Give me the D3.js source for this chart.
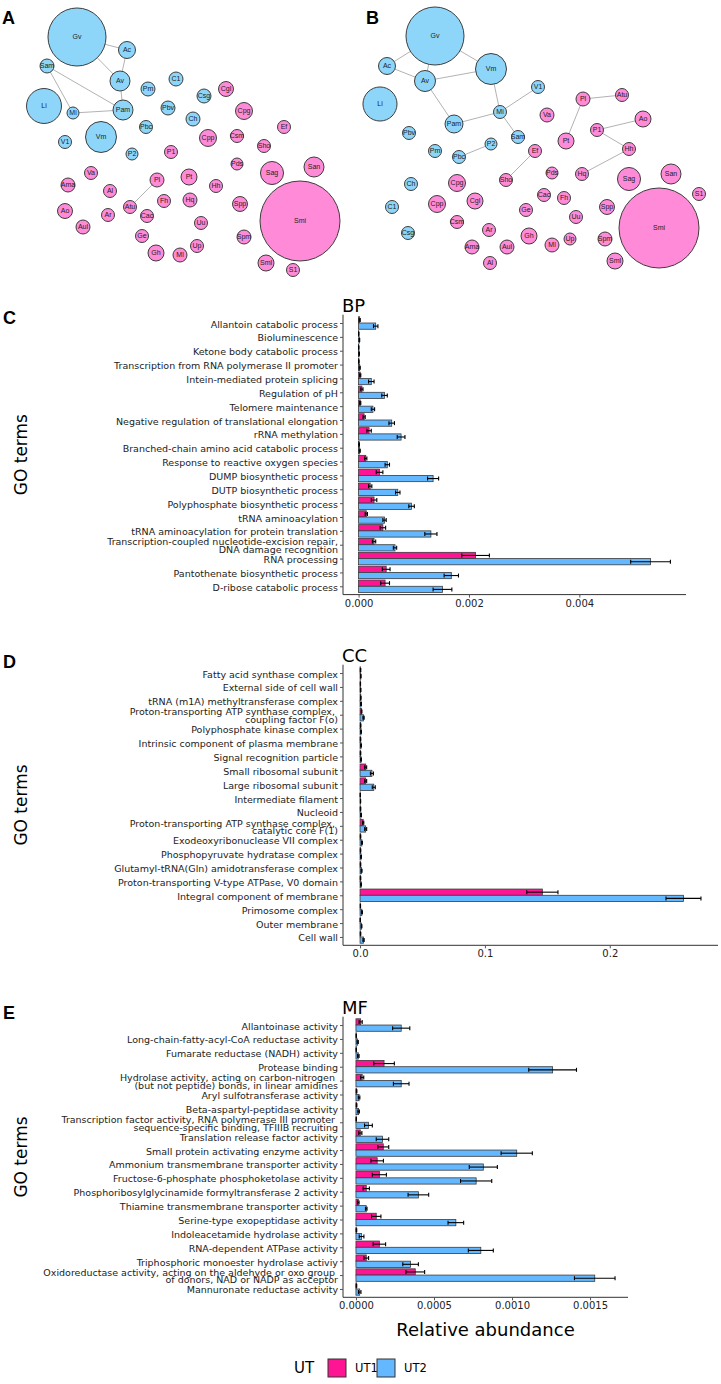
<!DOCTYPE html>
<html><head><meta charset="utf-8">
<script src="https://cdnjs.cloudflare.com/ajax/libs/d3/7.8.5/d3.min.js"></script>
<style>
body{margin:0;background:#fff;}
svg{display:block;font-family:"DejaVu Sans",Verdana,sans-serif;}
</style></head><body>
<svg id="fig" width="721" height="1384"></svg>
<script>
// ---------- Network data (layout coordinates, relative abundance size) ----------
const nodesA = [
 ["Gv","b",77,37,52.6],["Ac","b",127,50,4.5],["Sam","b",47,66,3.06],["Av","b",120,81,6.25],
 ["Li","b",44,106,19.1],["Mi","b",73,113,2.25],["Pam","b",123,110,6.25],["Pm","b",148,89,3.06],
 ["C1","b",176,79,3.06],["Cgl","p",226,89,3.5],["Csg","b",204,96,3.06],["Pbv","b",168,108,3.06],
 ["Cpg","p",244,111,4.5],["Ch","b",193,119,3.06],["Pbc","b",146,127,2.64],["Ef","p",284,127,2.64],
 ["V1","b",65,142,2.64],["Vm","b",101,137,15],["Cpp","p",208,138,4.5],["Csm","p",237,136,2.64],
 ["Sho","p",264,146,2.64],["P2","b",132,154,2.25],["P1","p",171,152,2.64],["Pds","p",237,164,2.25],
 ["Sag","p",272,173,8.3],["San","p",314,167,6.25],["Va","p",91,173,2.64],["Ama","p",68,185,3.06],
 ["Pl","p",157,180,3.06],["Pt","p",189,177,4],["Hh","p",216,186,2.64],["Al","p",110,191,2.64],
 ["Ao","p",65,211,3.5],["Atu","p",130,207,2.64],["Fh","p",164,201,2.64],["Hq","p",190,200,3.06],
 ["Spp","p",240,204,3.5],["Smi","p",300,221,100],["Cac","p",147,216,2.64],["Ar","p",108,215,2.64],
 ["Aul","p",83,227,3.06],["Uu","p",201,223,2.64],["Ge","p",142,236,2.64],["Spm","p",244,237,3.06],
 ["Up","p",197,246,2.64],["Gh","p",156,253,4],["Ml","p",180,255,3.06],["Sml","p",266,263,4],["S1","p",293,270,2.64]
];
const edgesA = [["Gv","Ac"],["Gv","Av"],["Ac","Av"],["Av","Pam"],["Sam","Pam"],["Sam","Mi"],["Mi","Pam"],["Pl","Atu"]];

const nodesB = [
 ["Gv","b",75,36,52.6],["Ac","b",27,66,4.5],["Av","b",65,81,6.9],["Vm","b",131,69,15],
 ["Li","b",20,104,18.1],["V1","b",178,87,2.64],["Mi","b",140,112,2.64],["Pam","b",94,124,5.06],
 ["Pl","p",223,99,3.06],["Atu","p",262,95,2.64],["Va","p",187,115,3.06],["Ao","p",283,119,4],
 ["P1","p",237,130,2.64],["Pbv","b",49,133,2.64],["Sam","b",158,137,2.64],["Pt","p",206,141,4],
 ["P2","b",131,144,2.25],["Hh","p",269,149,2.64],["Pm","b",75,151,2.64],["Pbc","b",99,157,2.64],
 ["Ef","p",175,151,2.64],["Pds","p",192,173,2.25],["Hq","p",222,174,2.64],["Sag","p",269,179,8.3],
 ["San","p",311,174,6.25],["Sho","p",146,180,2.64],["Ch","b",51,184,2.64],["Cpg","p",97,183,4.5],
 ["S1","p",339,194,2.64],["Cac","p",184,195,2.64],["Fh","p",204,198,2.64],["Cgl","p",115,201,4],
 ["Cpp","p",77,204,4.5],["C1","b",32,207,2.64],["Spp","p",247,207,3.5],["Ge","p",166,210,2.64],
 ["Smi","p",299,228,100],["Uu","p",216,217,2.64],["Csm","p",97,222,2.64],["Ar","p",129,230,2.64],
 ["Csg","b",48,233,2.64],["Gh","p",169,236,4],["Up","p",210,239,2.25],["Spm","p",245,239,3.06],
 ["Ml","p",192,245,3.06],["Ama","p",112,247,3.06],["Aul","p",147,247,3.06],["Sml","p",255,261,4],["Al","p",130,263,2.64]
];
const edgesB = [["Gv","Ac"],["Gv","Av"],["Gv","Vm"],["Ac","Av"],["Av","Vm"],["Av","Pam"],["Vm","Mi"],["Pam","Mi"],
 ["Mi","V1"],["Mi","Sam"],["Pl","Atu"],["Pl","Pt"],["Ao","P1"],["P1","Hh"],["Hh","Hq"],["Pbc","P2"],["Ef","Sho"]];

// ---------- Bar chart data ----------
const bpCats = ["Allantoin catabolic process","Bioluminescence","Ketone body catabolic process",
 "Transcription from RNA polymerase II promoter","Intein-mediated protein splicing","Regulation of pH",
 "Telomere maintenance","Negative regulation of translational elongation","rRNA methylation",
 "Branched-chain amino acid catabolic process","Response to reactive oxygen species","DUMP biosynthetic process",
 "DUTP biosynthetic process","Polyphosphate biosynthetic process","tRNA aminoacylation",
 "tRNA aminoacylation for protein translation","Transcription-coupled nucleotide-excision repair,\nDNA damage recognition",
 "RNA processing","Pantothenate biosynthetic process","D-ribose catabolic process"];
const bpUT1   = [0.00002,0.000003,0.000003,0.000005,0.00003,0.00006,0.00003,0.0001,0.00019,0.00001,0.00013,0.00038,0.00021,0.00028,0.00014,0.00044,0.00028,0.00212,0.0005,0.00048];
const bpUT1se = [0.00001,0.000002,0.000002,0.000003,0.00001,0.00002,0.00001,0.00002,0.00004,0.000005,0.00002,0.00006,0.00003,0.00005,0.00002,0.00005,0.00003,0.00025,0.00007,0.00008];
const bpUT2   = [0.00031,0.000015,0.00001,0.00002,0.00023,0.00047,0.00026,0.0006,0.00077,0.00002,0.00052,0.00135,0.00071,0.00096,0.00047,0.00131,0.00066,0.00529,0.00168,0.00152];
const bpUT2se = [0.00004,0.000005,0.000005,0.00001,0.00005,0.00005,0.00003,0.00005,0.00007,0.00001,0.00004,0.0001,0.00004,0.00005,0.00003,0.00011,0.00003,0.00036,0.00013,0.00017];
const bpTicks = [0,0.002,0.004];

const ccCats = ["Fatty acid synthase complex","External side of cell wall","tRNA (m1A) methyltransferase complex",
 "Proton-transporting ATP synthase complex, \ncoupling factor F(o)","Polyphosphate kinase complex",
 "Intrinsic component of plasma membrane","Signal recognition particle","Small ribosomal subunit",
 "Large ribosomal subunit","Intermediate filament","Nucleoid",
 "Proton-transporting ATP synthase complex, \ncatalytic core F(1)","Exodeoxyribonuclease VII complex",
 "Phosphopyruvate hydratase complex","Glutamyl-tRNA(Gln) amidotransferase complex",
 "Proton-transporting V-type ATPase, V0 domain","Integral component of membrane","Primosome complex",
 "Outer membrane","Cell wall"];
const ccUT1   = [0.0004,0.0003,0.0006,0.0012,0.0005,0.0004,0.0004,0.0045,0.0045,0.0002,0.0004,0.0025,0.0004,0.0004,0.0004,0.0004,0.146,0.0003,0.0002,0.0004];
const ccUT1se = [0.0002,0.0001,0.0002,0.0003,0.0002,0.0002,0.0002,0.0008,0.0008,0.0001,0.0002,0.0005,0.0002,0.0002,0.0002,0.0002,0.0125,0.0001,0.0001,0.0002];
const ccUT2   = [0.0006,0.0005,0.0008,0.0028,0.0008,0.0008,0.0008,0.0095,0.011,0.0004,0.0008,0.0045,0.0015,0.0008,0.0012,0.0008,0.259,0.0015,0.0012,0.0028];
const ccUT2se = [0.0002,0.0002,0.0003,0.0005,0.0003,0.0003,0.0003,0.0012,0.0012,0.0001,0.0003,0.0008,0.0004,0.0003,0.0004,0.0003,0.014,0.0004,0.0003,0.0005];
const ccTicks = [0,0.1,0.2];

const mfCats = ["Allantoinase activity","Long-chain-fatty-acyl-CoA reductase activity","Fumarate reductase (NADH) activity",
 "Protease binding","Hydrolase activity, acting on carbon-nitrogen \n(but not peptide) bonds, in linear amidines",
 "Aryl sulfotransferase activity","Beta-aspartyl-peptidase activity",
 "Transcription factor activity, RNA polymerase III promoter \nsequence-specific binding, TFIIIB recruiting",
 "Translation release factor activity","Small protein activating enzyme activity",
 "Ammonium transmembrane transporter activity","Fructose-6-phosphate phosphoketolase activity",
 "Phosphoribosylglycinamide formyltransferase 2 activity","Thiamine transmembrane transporter activity",
 "Serine-type exopeptidase activity","Indoleacetamide hydrolase activity","RNA-dependent ATPase activity",
 "Triphosphoric monoester hydrolase activiy",
 "Oxidoreductase activity, acting on the aldehyde or oxo group \nof donors, NAD or NADP as acceptor",
 "Mannuronate reductase activity"];
const mfUT1   = [0.00003,0.000002,0.000002,0.00018,0.00004,0.000004,0.000004,0.000002,0.000028,0.000175,0.000136,0.00015,0.000066,0.000015,0.00013,0.000003,0.00015,0.000066,0.00038,0.000003];
const mfUT1se = [0.00001,0.000001,0.000001,0.000066,0.00001,0.000002,0.000002,0.000001,0.00001,0.000035,0.00004,0.000045,0.00002,0.000005,0.00003,0.000002,0.00004,0.000015,0.00006,0.000002];
const mfUT2   = [0.00029,0.000011,0.000015,0.00126,0.00029,0.00002,0.000017,0.00008,0.00017,0.00103,0.000816,0.00077,0.0004,0.000066,0.00064,0.000036,0.0008,0.00035,0.00153,0.000024];
const mfUT2se = [0.000055,0.000004,0.000005,0.000153,0.00005,0.000005,0.000005,0.000025,0.00004,0.0001,0.00009,0.0001,0.000066,0.000005,0.00005,0.000015,0.00008,0.00005,0.00013,0.000008];
const mfTicks = [0,0.0005,0.001,0.0015];

const groups = ["UT1","UT2"];
const groupColors = ["#FF1493","#63B8FF"];

// ---------- Drawing ----------
const svg = d3.select("#fig");
const colNode = {b:"#8DD6FA", p:"#FF8AD8"};
const rScale = d3.scaleSqrt().domain([0,100]).range([0,40]);

function network(nodes, edges, ox, oy){
  const g = svg.append("g");
  const xs = d3.scaleLinear().domain([0,360]).range([ox, ox+360]);
  const ys = d3.scaleLinear().domain([0,290]).range([oy, oy+290]);
  const m = new Map(nodes.map(n=>[n[0],n]));
  g.selectAll("line").data(edges).join("line")
    .attr("x1",e=>xs(m.get(e[0])[2])).attr("y1",e=>ys(m.get(e[0])[3]))
    .attr("x2",e=>xs(m.get(e[1])[2])).attr("y2",e=>ys(m.get(e[1])[3]))
    .attr("stroke","#b3b3b3").attr("stroke-width",1);
  g.selectAll("circle").data(nodes).join("circle")
    .attr("cx",n=>xs(n[2])).attr("cy",n=>ys(n[3])).attr("r",n=>rScale(n[4]))
    .attr("fill",n=>colNode[n[1]]).attr("stroke","#3d3d3d").attr("stroke-width",1);
  g.selectAll("text").data(nodes).join("text")
    .attr("x",n=>xs(n[2])).attr("y",n=>ys(n[3])).attr("dy","0.35em")
    .attr("text-anchor","middle").attr("font-family","Liberation Sans, Arial, sans-serif")
    .attr("font-size",7).attr("fill","#222").text(n=>n[0]);
}
network(nodesA, edgesA, 0, 0);
network(nodesB, edgesB, 360, 0);

function letter(t,x,y){
  svg.append("text").attr("x",x).attr("y",y).text(t)
    .attr("font-family","Liberation Sans, Arial, sans-serif").attr("font-weight","bold")
    .attr("font-size",18).attr("fill","#000");
}
letter("A",2,24); letter("B",366,24);

function barPanel(cfg){
  const {cats,u1,u1se,u2,u2se,ticks,fmt,top,bottom,right,title,let_,letY} = cfg;
  const left = 343;
  const max = d3.max(u1.map((v,i)=>v+u1se[i]).concat(u2.map((v,i)=>v+u2se[i])));
  const x = d3.scaleLinear().domain([-0.05*max, 1.05*max]).range([left,right]);
  const y = d3.scalePoint().domain(cats).range([top,bottom]).padding(0.6);
  const bh = y.step()*0.45;
  const g = svg.append("g");
  const series = [u1,u2], ses = [u1se,u2se];
  series.forEach((vals,k)=>{
    const off = k===0 ? -bh : 0;
    g.append("g").selectAll("rect").data(vals).join("rect")
      .attr("x",x(0)).attr("y",(d,i)=>y(cats[i])+off)
      .attr("width",d=>Math.max(0.01,x(d)-x(0))).attr("height",bh)
      .attr("fill",groupColors[k]).attr("stroke","#3a3a3a").attr("stroke-width",0.8);
  });
  series.forEach((vals,k)=>{
    const cy = i => y(cats[i]) + (k===0 ? -bh/2 : bh/2);
    const eg = g.append("g").attr("stroke","#000").attr("stroke-width",1.1);
    vals.forEach((v,i)=>{
      const lo = x(Math.max(0,v-ses[k][i])), hi = x(v+ses[k][i]);
      eg.append("line").attr("x1",lo).attr("x2",hi).attr("y1",cy(i)).attr("y2",cy(i));
      eg.append("line").attr("x1",lo).attr("x2",lo).attr("y1",cy(i)-2).attr("y2",cy(i)+2);
      eg.append("line").attr("x1",hi).attr("x2",hi).attr("y1",cy(i)-2).attr("y2",cy(i)+2);
    });
  });
  // y axis
  const ya = g.append("g").attr("transform",`translate(${left},0)`)
    .call(d3.axisLeft(y).tickSize(3).tickSizeOuter(0).tickPadding(2));
  ya.select(".domain").attr("d",`M0,${top}V${bottom}`).attr("stroke","#333").attr("stroke-width",1);
  ya.selectAll(".tick line").attr("stroke","#555");
  ya.selectAll(".tick text").each(function(d){
    const t = d3.select(this); const lines = d.split("\n");
    t.text(null).attr("font-size",9.5).attr("fill","#222").attr("font-family","DejaVu Sans, Verdana, sans-serif")
      .style("white-space","pre").attr("dy",null).attr("dominant-baseline","central");
    lines.forEach((ln,j)=>{
      t.append("tspan").attr("x",-5).attr("y",(j-(lines.length-1)/2)*7.6).text(ln);
    });
  });
  // x axis
  const xa = g.append("g").attr("transform",`translate(0,${bottom})`)
    .call(d3.axisBottom(x).tickValues(ticks).tickFormat(fmt).tickSize(3).tickSizeOuter(0).tickPadding(2));
  xa.select(".domain").attr("d",`M${left},0H${right}`).attr("stroke","#333").attr("stroke-width",1);
  xa.selectAll(".tick line").attr("stroke","#555");
  xa.selectAll(".tick text").attr("font-size",10).attr("fill","#222").attr("font-family","DejaVu Sans, Verdana, sans-serif");
  // title
  g.append("text").attr("x",left-1).attr("y",top-3).text(title).attr("font-size",18).attr("fill","#000");
  // GO terms
  g.append("text").attr("transform",`translate(27,${(top+bottom)/2}) rotate(-90)`)
    .attr("text-anchor","middle").attr("font-size",17).attr("fill","#000").text("GO terms");
  letter(let_,3,letY);
  return x;
}

barPanel({cats:bpCats,u1:bpUT1,u1se:bpUT1se,u2:bpUT2,u2se:bpUT2se,ticks:bpTicks,fmt:d3.format(".3f"),
  top:314.7,bottom:594.6,right:686,title:"BP",let_:"C",letY:324});
barPanel({cats:ccCats,u1:ccUT1,u1se:ccUT1se,u2:ccUT2,u2se:ccUT2se,ticks:ccTicks,fmt:d3.format(".1f"),
  top:664.7,bottom:945.3,right:718,title:"CC",let_:"D",letY:668});
const xE = barPanel({cats:mfCats,u1:mfUT1,u1se:mfUT1se,u2:mfUT2,u2se:mfUT2se,ticks:mfTicks,fmt:d3.format(".4f"),
  top:1016.7,bottom:1297.3,right:628,title:"MF",let_:"E",letY:1019});

svg.append("text").attr("x",(343+628)/2).attr("y",1336).attr("text-anchor","middle")
  .attr("font-size",18).attr("fill","#000").text("Relative abundance");

// legend
const lg = svg.append("g").attr("transform","translate(294,1368)");
lg.append("text").attr("x",0).attr("y",0).attr("dy","0.35em").attr("font-size",15).text("UT");
const lx = d3.scaleBand().domain(groups).range([34,132]);
groups.forEach((gname,i)=>{
  lg.append("rect").attr("x",lx(gname)).attr("y",-9).attr("width",18).attr("height",18)
    .attr("fill",groupColors[i]).attr("stroke","#333").attr("stroke-width",1);
  lg.append("text").attr("x",lx(gname)+27).attr("y",0).attr("dy","0.35em").attr("font-size",11.5).text(gname);
});
</script>
</body></html>
